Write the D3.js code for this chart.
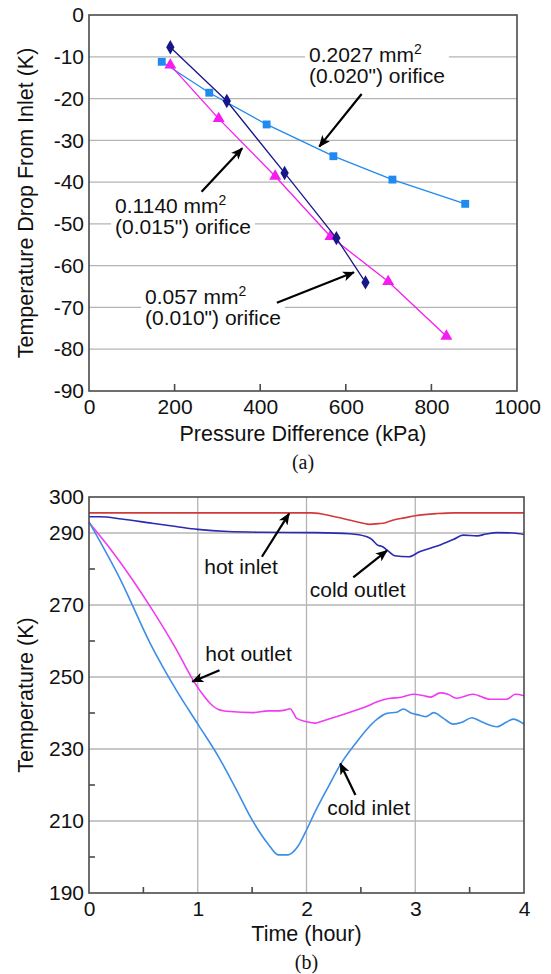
<!DOCTYPE html>
<html>
<head>
<meta charset="utf-8">
<script src="https://cdn.jsdelivr.net/npm/d3@7"></script>
<style>
  body { margin: 0; background: #fff; }
  svg text { font-family: "Liberation Sans", Arial, Helvetica, sans-serif; }
</style>
</head>
<body>
<div id="chart"></div>
<script>
// ---- chart (a) data: pressure difference (kPa) vs temperature drop (K)
var orifice020Kpa = [170, 281, 415, 571, 709, 879];
var orifice020Drop = [-11.2, -18.6, -26.2, -33.8, -39.4, -45.2];
var orifice015Kpa = [190, 303, 435, 564, 699, 835];
var orifice015Drop = [-12.0, -24.8, -38.6, -53.0, -63.8, -76.9];
var orifice010Kpa = [190, 322, 457, 578, 646];
var orifice010Drop = [-7.7, -20.6, -37.8, -53.4, -64.0];
var dropTicks = [0, -10, -20, -30, -40, -50, -60, -70, -80, -90];
var kpaTicks = [0, 200, 400, 600, 800, 1000];

// ---- chart (b) data: time (hour) vs temperature (K)
var hotInletT = [0, 1, 1.9, 2.05, 2.25, 2.45, 2.58, 2.66, 2.72, 2.8, 2.9, 3.0, 3.2, 3.36, 4];
var hotInletK = [295.6, 295.6, 295.6, 295.6, 294.6, 293.2, 292.4, 292.6, 292.8, 293.6, 294.2, 294.8, 295.4, 295.6, 295.6];
var coldOutletT = [0, 0.1, 0.3, 0.58, 0.8, 1.0, 1.28, 1.6, 2.08, 2.4, 2.55, 2.6, 2.65, 2.7, 2.74, 2.81, 2.94, 3.04, 3.13, 3.23, 3.35, 3.44, 3.57, 3.65, 3.75, 3.9, 4.0];
var coldOutletK = [294.5, 294.5, 293.9, 292.7, 291.8, 291.0, 290.4, 290.2, 290.1, 289.8, 289.0, 288.2, 286.7, 286.2, 285.3, 283.7, 283.4, 284.8, 285.7, 286.7, 288.2, 289.4, 289.2, 289.7, 290.1, 290.0, 289.6];
var hotOutletT = [0, 0.2, 0.4, 0.6, 0.8, 0.95, 1.05, 1.12, 1.19, 1.3, 1.5, 1.65, 1.75, 1.8, 1.85, 1.88, 1.91, 2.0, 2.08, 2.15, 2.28, 2.4, 2.55, 2.65, 2.77, 2.86, 2.98, 3.08, 3.14, 3.23, 3.3, 3.38, 3.53, 3.69, 3.84, 3.92, 4.0];
var hotOutletK = [292.9, 285.4, 277.0, 267.8, 257.8, 249.5, 245.0, 242.5, 241.0, 240.4, 240.1, 240.6, 240.6, 240.8, 241.2, 240.0, 238.5, 237.6, 237.2, 237.8, 239.0, 240.2, 241.8, 243.1, 244.1, 244.3, 245.2, 244.8, 244.4, 245.6, 245.2, 244.1, 245.2, 243.8, 243.8, 245.2, 244.8];
var coldInletT = [0, 0.29, 0.56, 0.8, 1.01, 1.19, 1.35, 1.5, 1.65, 1.74, 1.83, 1.92, 2.0, 2.08, 2.2, 2.31, 2.45, 2.55, 2.65, 2.74, 2.83, 2.89, 2.96, 3.04, 3.1, 3.17, 3.26, 3.35, 3.43, 3.52, 3.62, 3.75, 3.84, 3.9, 4.0];
var coldInletK = [293.1, 277.0, 259.5, 246.5, 236.5, 227.9, 219.0, 210.3, 203.5, 200.6, 200.6, 202.9, 207.5, 212.6, 219.5, 225.6, 231.5, 235.3, 238.3, 239.9, 240.2, 241.1, 240.0, 239.4, 239.0, 240.1, 238.5, 236.9, 237.4, 238.7, 237.4, 236.2, 237.5, 238.3, 236.9];
var tempLabels = [300, 290, 270, 250, 230, 210, 190];
var tempGrid = [290, 270, 250, 230, 210];
var tempMinor = [280, 260, 240, 220, 200];
var hourTicks = [0, 1, 2, 3, 4];
var hourMinor = [0.5, 1.5, 2.5, 3.5];

var svg = d3.select("#chart")
  .append("svg")
  .attr("width", 551)
  .attr("height", 974);

var gridColor = "#b4b4b4";
var frameColor = "#4a4a4a";
var plain = function (d) { return String(d); };   // hyphen minus, no thousands comma

svg.append("defs").append("marker")
  .attr("id", "arrow")
  .attr("viewBox", "0 0 12 10")
  .attr("refX", 11).attr("refY", 5)
  .attr("markerWidth", 12).attr("markerHeight", 10)
  .attr("markerUnits", "userSpaceOnUse")
  .attr("orient", "auto")
  .append("path")
  .attr("d", "M0,0 L12,5 L0,10 L3,5 Z")
  .attr("fill", "#000");

function zip(xs, ys) { return xs.map(function (x, i) { return [x, ys[i]]; }); }

// two-line label (first line with superscript 2) on a white box that hides gridlines
function label(g, x, y, line1, line2) {
  var t = g.append("text").attr("x", x).attr("y", y).attr("font-size", 21).attr("fill", "#111");
  t.append("tspan").text(line1);
  t.append("tspan").attr("font-size", 14).attr("dy", -8).text("2");
  t.append("tspan").attr("x", x).attr("dy", 29).text(line2);
  var b = t.node().getBBox();
  g.insert("rect", function () { return t.node(); })
    .attr("x", b.x - 4).attr("y", b.y + 2).attr("width", b.width + 8).attr("height", b.height - 4)
    .attr("fill", "#fff");
}

function arrow(g, x1, y1, x2, y2) {
  g.append("line")
    .attr("x1", x1).attr("y1", y1).attr("x2", x2).attr("y2", y2)
    .attr("stroke", "#000").attr("stroke-width", 2.2)
    .attr("marker-end", "url(#arrow)");
}

function styleTicks(sel) {
  sel.select(".domain").remove();
  sel.selectAll("text").attr("font-size", 21).attr("font-family", null).attr("fill", "#111");
}

// ================= chart (a) =================
var xa = d3.scaleLinear().domain([0, 1000]).range([89, 517]);
var ya = d3.scaleLinear().domain([-90, 0]).range([391, 15]);
var ga = svg.append("g");

ga.selectAll(".grid").data(dropTicks.slice(1, -1)).join("line")
  .attr("x1", xa(0)).attr("x2", xa(1000))
  .attr("y1", function (d) { return ya(d); }).attr("y2", function (d) { return ya(d); })
  .attr("stroke", gridColor).attr("stroke-width", 1.3);

ga.selectAll(".xtick").data(kpaTicks.slice(1, -1)).join("line")
  .attr("x1", function (d) { return xa(d); }).attr("x2", function (d) { return xa(d); })
  .attr("y1", ya(-90)).attr("y2", ya(-90) - 7)
  .attr("stroke", frameColor).attr("stroke-width", 1.6);

var annA = ga.append("g");
label(annA, xa(514), ya(-11.2), "0.2027 mm", "(0.020\") orifice");
label(annA, xa(61), ya(-47.5), "0.1140 mm", "(0.015\") orifice");
label(annA, xa(131), ya(-69.2), "0.057 mm", "(0.010\") orifice");
arrow(annA, xa(637), ya(-18.9), xa(538), ya(-31.5));
arrow(annA, xa(263), ya(-42.3), xa(358), ya(-31.9));
arrow(annA, xa(439), ya(-68.9), xa(619), ya(-61.6));

var lineA = d3.line().x(function (d) { return xa(d[0]); }).y(function (d) { return ya(d[1]); });
var seriesA = [
  { pts: zip(orifice020Kpa, orifice020Drop), color: "#1f8bf0", sym: d3.symbolSquare, size: 62 },
  { pts: zip(orifice015Kpa, orifice015Drop), color: "#f51cf0", sym: d3.symbolTriangle, size: 62 },
  { pts: zip(orifice010Kpa, orifice010Drop), color: "#17178a", sym: d3.symbolDiamond, size: 60 }
];
seriesA.forEach(function (s) {
  ga.append("path").attr("d", lineA(s.pts))
    .attr("fill", "none").attr("stroke", s.color).attr("stroke-width", 1.3);
  ga.selectAll(null).data(s.pts).join("path")
    .attr("transform", function (d) { return "translate(" + xa(d[0]) + "," + ya(d[1]) + ")"; })
    .attr("d", d3.symbol().type(s.sym).size(s.size))
    .attr("fill", s.color);
});

ga.append("rect")
  .attr("x", xa(0)).attr("y", ya(0))
  .attr("width", xa(1000) - xa(0)).attr("height", ya(-90) - ya(0))
  .attr("fill", "none").attr("stroke", frameColor).attr("stroke-width", 1.6);

ga.append("g").attr("transform", "translate(" + xa(0) + ",0)")
  .call(d3.axisLeft(ya).tickValues(dropTicks).tickFormat(plain).tickSize(0).tickPadding(5))
  .call(styleTicks);

ga.append("g").attr("transform", "translate(0," + ya(-90) + ")")
  .call(d3.axisBottom(xa).tickValues(kpaTicks).tickFormat(plain).tickSize(0).tickPadding(8))
  .call(styleTicks);

ga.append("text")
  .attr("x", (xa(0) + xa(1000)) / 2).attr("y", 441)
  .attr("text-anchor", "middle").attr("font-size", 21.5).attr("fill", "#111")
  .text("Pressure Difference (kPa)");
ga.append("text")
  .attr("transform", "translate(33," + (ya(-90) + ya(0)) / 2 + ") rotate(-90)")
  .attr("text-anchor", "middle").attr("font-size", 21.5).attr("fill", "#111")
  .text("Temperature Drop From Inlet (K)");
ga.append("text")
  .attr("x", (xa(0) + xa(1000)) / 2).attr("y", 469)
  .attr("text-anchor", "middle").attr("font-size", 20).attr("fill", "#111")
  .style("font-family", "'Liberation Serif', 'Times New Roman', serif")
  .text("(a)");

// ================= chart (b) =================
var xb = d3.scaleLinear().domain([0, 4]).range([89, 524]);
var yb = d3.scaleLinear().domain([190, 300]).range([893, 497]);
var gb = svg.append("g");

gb.selectAll(".hgrid").data(tempGrid).join("line")
  .attr("x1", xb(0)).attr("x2", xb(4))
  .attr("y1", function (d) { return yb(d); }).attr("y2", function (d) { return yb(d); })
  .attr("stroke", gridColor).attr("stroke-width", 1.3);
gb.selectAll(".vgrid").data(hourTicks.slice(1, -1)).join("line")
  .attr("x1", function (d) { return xb(d); }).attr("x2", function (d) { return xb(d); })
  .attr("y1", yb(190)).attr("y2", yb(300))
  .attr("stroke", gridColor).attr("stroke-width", 1.3);
gb.selectAll(".ymin").data(tempMinor).join("line")
  .attr("x1", xb(0)).attr("x2", xb(0) + 6)
  .attr("y1", function (d) { return yb(d); }).attr("y2", function (d) { return yb(d); })
  .attr("stroke", frameColor).attr("stroke-width", 1.6);
gb.selectAll(".xmin").data(hourMinor).join("line")
  .attr("x1", function (d) { return xb(d); }).attr("x2", function (d) { return xb(d); })
  .attr("y1", yb(190)).attr("y2", yb(190) - 6)
  .attr("stroke", frameColor).attr("stroke-width", 1.6);

var lineB = d3.line().curve(d3.curveMonotoneX)
  .x(function (d) { return xb(d[0]); }).y(function (d) { return yb(d[1]); });
var seriesB = [
  { pts: zip(hotInletT, hotInletK), color: "#d23a3a" },
  { pts: zip(coldOutletT, coldOutletK), color: "#2a2ab4" },
  { pts: zip(hotOutletT, hotOutletK), color: "#f03cf0" },
  { pts: zip(coldInletT, coldInletK), color: "#3d8fe6" }
];
seriesB.forEach(function (s) {
  gb.append("path").attr("d", lineB(s.pts))
    .attr("fill", "none").attr("stroke", s.color).attr("stroke-width", 1.6);
});

gb.append("rect")
  .attr("x", xb(0)).attr("y", yb(300))
  .attr("width", xb(4) - xb(0)).attr("height", yb(190) - yb(300))
  .attr("fill", "none").attr("stroke", frameColor).attr("stroke-width", 1.6);

var annB = gb.append("g");
annB.append("text").attr("x", xb(1.06)).attr("y", yb(278.7)).attr("font-size", 21).attr("fill", "#111").text("hot inlet");
annB.append("text").attr("x", xb(2.03)).attr("y", yb(272.2)).attr("font-size", 21).attr("fill", "#111").text("cold outlet");
annB.append("text").attr("x", xb(1.07)).attr("y", yb(254.4)).attr("font-size", 21).attr("fill", "#111").text("hot outlet");
annB.append("text").attr("x", xb(2.19)).attr("y", yb(211.7)).attr("font-size", 21).attr("fill", "#111").text("cold inlet");
arrow(annB, xb(1.59), yb(283.4), xb(1.84), yb(295.4));
arrow(annB, xb(2.43), yb(277.7), xb(2.74), yb(285.1));
arrow(annB, xb(1.2), yb(251.9), xb(0.95), yb(248.7));
arrow(annB, xb(2.45), yb(217.2), xb(2.31), yb(226.0));

gb.append("g").attr("transform", "translate(" + xb(0) + ",0)")
  .call(d3.axisLeft(yb).tickValues(tempLabels).tickFormat(plain).tickSize(0).tickPadding(5))
  .call(styleTicks);

gb.append("g").attr("transform", "translate(0," + yb(190) + ")")
  .call(d3.axisBottom(xb).tickValues(hourTicks).tickFormat(plain).tickSize(0).tickPadding(8))
  .call(styleTicks);

gb.append("text")
  .attr("x", (xb(0) + xb(4)) / 2).attr("y", 941)
  .attr("text-anchor", "middle").attr("font-size", 21.5).attr("fill", "#111")
  .text("Time (hour)");
gb.append("text")
  .attr("transform", "translate(33," + (yb(190) + yb(300)) / 2 + ") rotate(-90)")
  .attr("text-anchor", "middle").attr("font-size", 21.5).attr("fill", "#111")
  .text("Temperature (K)");
gb.append("text")
  .attr("x", (xb(0) + xb(4)) / 2).attr("y", 969)
  .attr("text-anchor", "middle").attr("font-size", 20).attr("fill", "#111")
  .style("font-family", "'Liberation Serif', 'Times New Roman', serif")
  .text("(b)");
</script>
</body>
</html>
